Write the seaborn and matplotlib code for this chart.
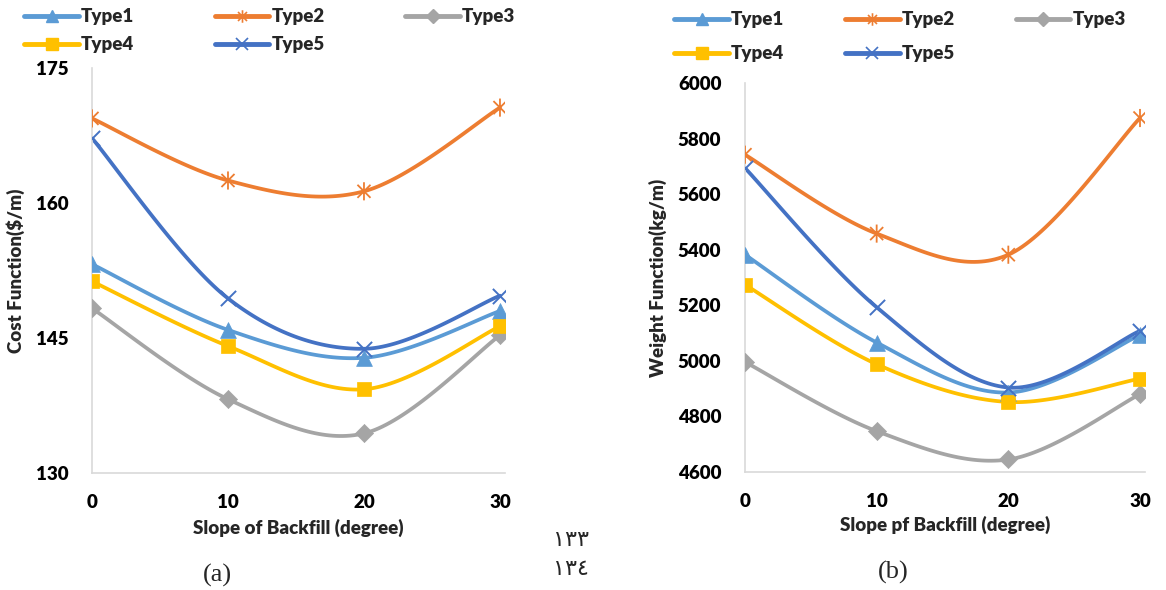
import numpy as np
import pandas as pd
import matplotlib
matplotlib.use("Agg")
import matplotlib.pyplot as plt
import seaborn as sns
from matplotlib.path import Path
from matplotlib.lines import Line2D

# ---------------- data ----------------
slope = [0, 10, 20, 30]
slope_labels = ["0", "10", "20", "30"]
series_names = ["Type1", "Type2", "Type3", "Type4", "Type5"]

cost_type1 = [153.2, 145.9, 142.8, 148.0]
cost_type2 = [169.4, 162.5, 161.3, 170.6]
cost_type3 = [148.3, 138.2, 134.4, 145.3]
cost_type4 = [151.3, 144.1, 139.3, 146.3]
cost_type5 = [167.2, 149.4, 143.8, 149.7]

weight_type1 = [5382, 5066, 4886, 5093]
weight_type2 = [5742, 5458, 5382, 5874]
weight_type3 = [4996, 4747, 4645, 4880]
weight_type4 = [5274, 4988, 4852, 4936]
weight_type5 = [5694, 5193, 4904, 5108]

cost_ticks = [130, 145, 160, 175]
weight_ticks = [4600, 4800, 5000, 5200, 5400, 5600, 5800, 6000]

# ---------------- style ----------------
sns.set_theme(style="white")
FAM = ['Lato', 'DejaVu Sans']
WT = 'heavy'
plt.rcParams['font.family'] = FAM
plt.rcParams['font.weight'] = WT
FS = 13.5

colors = {"Type1": "#5B9BD5", "Type2": "#ED7D31", "Type3": "#A5A5A5",
          "Type4": "#FFC000", "Type5": "#4472C4"}

star_path = Path([(0, -1), (0, 1), (-0.72, -0.72), (0.72, 0.72), (-0.72, 0.72), (0.72, -0.72)],
                 [Path.MOVETO, Path.LINETO, Path.MOVETO, Path.LINETO, Path.MOVETO, Path.LINETO])
markers = {"Type1": "^", "Type2": star_path, "Type3": "D", "Type4": "s", "Type5": "x"}
msizes = {"Type1": 130, "Type2": 170, "Type3": 85, "Type4": 110, "Type5": 120}
leg_ms = {"Type1": 9, "Type2": 9, "Type3": 7, "Type4": 9, "Type5": 9}


def smooth_curve(x, y, n=40):
    P = np.column_stack([x, y]).astype(float)
    m = len(P)
    out = [P[:1]]
    t = np.linspace(0, 1, n)[1:, None]
    for i in range(m - 1):
        p_prev = P[i - 1] if i > 0 else P[i]
        p_next = P[i + 2] if i + 2 < m else P[i + 1]
        c1 = P[i] + (P[i + 1] - p_prev) / 6.0
        c2 = P[i + 1] - (p_next - P[i]) / 6.0
        seg = ((1 - t) ** 3) * P[i] + 3 * ((1 - t) ** 2) * t * c1 + 3 * (1 - t) * t ** 2 * c2 + t ** 3 * P[i + 1]
        out.append(seg)
    R = np.vstack(out)
    return R[:, 0], R[:, 1]


W, H = 1166, 590
fig = plt.figure(figsize=(W / 100, H / 100), dpi=100)


def px_axes(left, top, right, bottom):
    return fig.add_axes([left / W, 1 - bottom / H, (right - left) / W, (bottom - top) / H])


ax_a = px_axes(92, 68, 505, 473)
ax_b = px_axes(745, 83, 1145, 472)

cost = {"Type1": cost_type1, "Type2": cost_type2, "Type3": cost_type3,
        "Type4": cost_type4, "Type5": cost_type5}
weight = {"Type1": weight_type1, "Type2": weight_type2, "Type3": weight_type3,
          "Type4": weight_type4, "Type5": weight_type5}


def draw(ax, data, ylim, yticks, xlabel, ylabel, x_right, xlabelpad):
    for k, name in enumerate(series_names):
        vals = data[name]
        sx, sy = smooth_curve(slope, vals)
        df = pd.DataFrame({"x": sx, "y": sy})
        sns.lineplot(data=df, x="x", y="y", ax=ax, color=colors[name], lw=2.7,
                     sort=False, estimator=None, zorder=2 + k * 0.1)
        pts = pd.DataFrame({"x": slope, "y": vals})
        if name == "Type2":
            sns.scatterplot(data=pts, x="x", y="y", ax=ax, marker=markers[name],
                            s=msizes[name], color=colors[name], edgecolor=colors[name],
                            facecolor='none', linewidth=1.3, zorder=3 + k * 0.1)
        elif name == "Type5":
            sns.scatterplot(data=pts, x="x", y="y", ax=ax, marker=markers[name],
                            s=msizes[name], color=colors[name], linewidth=1.4,
                            zorder=3 + k * 0.1)
        else:
            sns.scatterplot(data=pts, x="x", y="y", ax=ax, marker=markers[name],
                            s=msizes[name], color=colors[name], edgecolor=colors[name],
                            linewidth=0.5, zorder=3 + k * 0.1)
    ax.set_xlim(0, x_right)
    ax.set_ylim(*ylim)
    ax.set_xticks(slope)
    ax.set_xticklabels(slope_labels)
    ax.set_yticks(yticks)
    ax.set_yticklabels([str(v) for v in yticks])
    ax.tick_params(axis='both', length=0, labelsize=FS, colors='black')
    ax.tick_params(axis='y', pad=17)
    ax.tick_params(axis='x', pad=15)
    for lab in ax.get_xticklabels() + ax.get_yticklabels():
        lab.set_fontweight(WT)
    for s in ['top', 'right']:
        ax.spines[s].set_visible(False)
    for s in ['left', 'bottom']:
        ax.spines[s].set_color('#D9D9D9')
        ax.spines[s].set_linewidth(1.2)
    ax.set_xlabel(xlabel, fontsize=FS, fontweight=WT, labelpad=xlabelpad)
    ax.set_ylabel(ylabel, fontsize=FS, fontweight=WT, labelpad=8)
    ax.grid(False)
    ax.set_facecolor('white')


draw(ax_a, cost, (130, 175), cost_ticks, "Slope of Backfill (degree)", "Cost Function($/m)", 30.37, 6)
draw(ax_b, weight, (4600, 6000), weight_ticks, "Slope pf Backfill (degree)", "Weight Function(kg/m)", 30.38, 4)

# legends (row-major order in 3 columns)
order = ["Type1", "Type4", "Type2", "Type5", "Type3"]


def handles():
    hs = []
    for name in order:
        if name == "Type2":
            hs.append(Line2D([], [], color=colors[name], lw=3.5, marker=markers[name],
                             markersize=leg_ms[name], markeredgewidth=1.2,
                             markeredgecolor=colors[name], markerfacecolor='none',
                             solid_capstyle='round'))
        elif name == "Type5":
            hs.append(Line2D([], [], color=colors[name], lw=3.5, marker=markers[name],
                             markersize=leg_ms[name], markeredgewidth=1.2,
                             markeredgecolor=colors[name], solid_capstyle='round'))
        else:
            hs.append(Line2D([], [], color=colors[name], lw=3.5, marker=markers[name],
                             markersize=leg_ms[name], markeredgecolor=colors[name],
                             solid_capstyle='round'))
    return hs


for (lx, ly, lsp, cs) in [(15, -1, 0.58, 4.3), (665, 2, 0.91, 3.25)]:
    fig.legend(handles(), order, loc='upper left', bbox_to_anchor=(lx / W, 1 - ly / H),
               ncol=3, frameon=False, borderpad=0, handlelength=2.9, handletextpad=0.12,
               columnspacing=cs, labelspacing=lsp,
               prop={'family': FAM, 'weight': WT, 'size': FS})

# panel captions
fig.text(217 / W, 1 - 575 / H, "(a)", family=['Liberation Serif'], fontsize=19,
         ha='center', va='center', fontweight='normal')
fig.text(893 / W, 1 - 572 / H, "(b)", family=['Liberation Serif'], fontsize=19,
         ha='center', va='center', fontweight='normal')
fig.text(571 / W, 1 - 540 / H, "١٣٣", family=['DejaVu Sans'], fontsize=16,
         ha='center', va='center', fontweight='normal')
fig.text(571 / W, 1 - 569 / H, "١٣٤", family=['DejaVu Sans'], fontsize=16,
         ha='center', va='center', fontweight='normal')

fig.savefig("out.png", dpi=100, facecolor='white')
